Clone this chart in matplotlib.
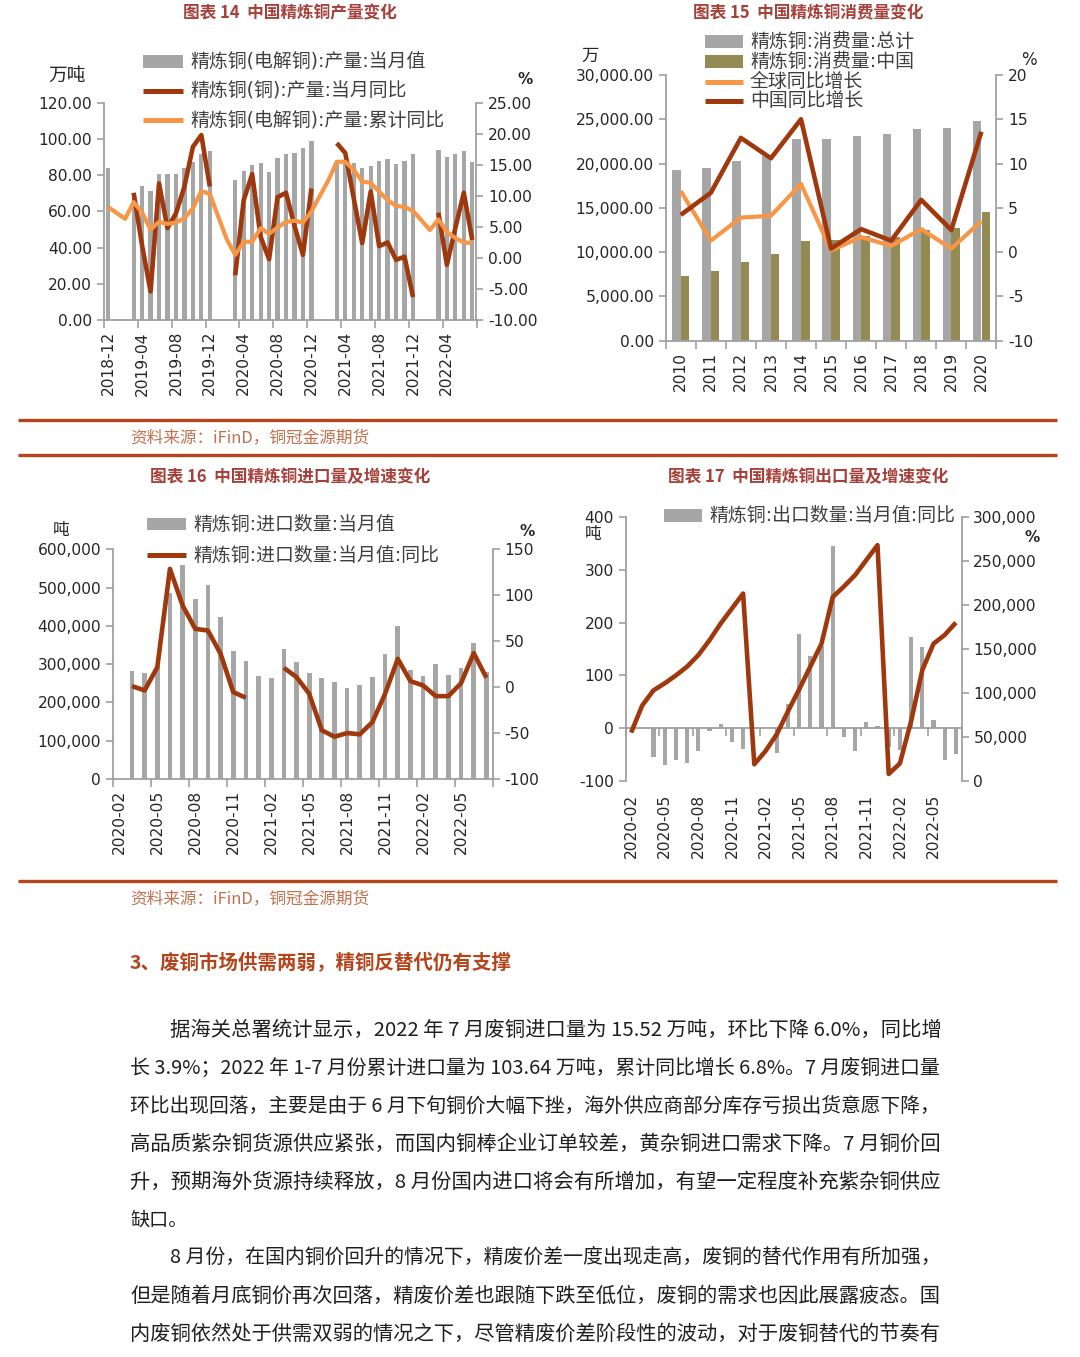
import numpy as np
import pandas as pd
import matplotlib
matplotlib.use('Agg')
import matplotlib.pyplot as plt
from matplotlib.patches import Rectangle
from matplotlib.lines import Line2D
from matplotlib.ticker import FuncFormatter

nan = np.nan

# ---------------- 图表14 中国精炼铜产量变化 ----------------
c14_months = list(pd.period_range('2018-12', periods=44, freq='M').strftime('%Y-%m'))
c14_ticklabels = ['2018-12', '2019-04', '2019-08', '2019-12', '2020-04', '2020-08',
                  '2020-12', '2021-04', '2021-08', '2021-12', '2022-04']
c14_output = [84.1, nan, nan, 70.3, 74.2, 71.3, 80.7, 80.5, 80.5, 84.1, 87.1, 91.5, 93.4,
              nan, nan, 77.3, 82.3, 85.6, 86.6, 81.9, 89.7, 91.5, 92.1, 95.2, 99.0,
              nan, nan, 88.0, 87.0, 86.9, 84.2, 85.1, 87.8, 88.8, 86.0, 88.0, 91.5,
              nan, nan, 93.9, 90.2, 91.7, 93.5, 87.5]
c14_yoy = [nan, nan, nan, 10.5, 2.0, -5.4, 12.0, 4.8, 7.2, 11.5, 17.9, 19.8, 11.5,
           nan, nan, -2.8, 9.3, 13.5, 3.4, -0.2, 9.8, 10.5, 5.2, 0.5, 11.2,
           nan, nan, 18.5, 16.9, 9.6, 2.4, 10.7, 1.9, 2.5, -0.3, 0.2, -6.3,
           nan, nan, 7.3, -1.1, 4.8, 10.5, 2.9]
c14_cum_yoy = [8.2, nan, 6.3, 9.0, 7.3, 4.6, 5.8, 5.5, 5.7, 6.4, 8.0, 10.8, 10.3,
               nan, 3.0, 0.5, 2.6, 2.6, 4.8, 3.9, 4.9, 5.8, 6.0, 5.7, 7.5,
               nan, 12.5, 15.5, 15.5, 14.2, 12.3, 12.1, 10.7, 9.3, 8.4, 8.2, 7.6,
               nan, 4.5, 6.2, 4.2, 3.2, 2.5, 2.4]

# ---------------- 图表15 中国精炼铜消费量变化 ----------------
c15_years = ['2010', '2011', '2012', '2013', '2014', '2015', '2016', '2017', '2018', '2019', '2020']
c15_total = [19300, 19540, 20290, 20800, 22740, 22820, 23150, 23300, 23900, 24020, 24810]
c15_china = [7340, 7830, 8850, 9790, 11300, 11400, 11800, 11750, 12500, 12760, 14530]
c15_global_yoy = [6.9, 1.3, 3.9, 4.1, 7.7, 0.2, 1.7, 0.7, 2.6, 0.4, 3.5]
c15_china_yoy = [4.2, 6.7, 12.9, 10.6, 15.0, 0.4, 2.6, 1.3, 5.9, 2.5, 13.6]

# ---------------- 图表16 中国精炼铜进口量及增速变化 ----------------
c16_months = list(pd.period_range('2020-02', periods=30, freq='M').strftime('%Y-%m'))
c16_ticklabels = ['2020-02', '2020-05', '2020-08', '2020-11', '2021-02', '2021-05',
                  '2021-08', '2021-11', '2022-02', '2022-05']
c16_import = [nan, 282000, 276000, 295000, 486000, 559000, 470000, 508000, 424000, 335000,
              308000, 269000, 264000, 340000, 305000, 278000, 263000, 254000, 237000, 245000,
              266000, 326000, 400000, 286000, 269000, 300000, 271000, 291000, 356000, 279000]
c16_import_yoy = [nan, 1.1, -3.6, 21.7, 128.7, 88.8, 63.4, 61.6, 36.3, -5.4,
                  -11.6, nan, nan, 21.0, 10.9, -7.2, -47.0, -54.0, -50.0, -51.4,
                  -38.0, -7.2, 30.8, 6.5, 1.8, -9.8, -9.8, 4.3, 37.0, 10.2]

# ---------------- 图表17 中国精炼铜出口量及增速变化 ----------------
c17_months = list(pd.period_range('2020-02', periods=30, freq='M').strftime('%Y-%m'))
c17_ticklabels = ['2020-02', '2020-05', '2020-08', '2020-11', '2021-02', '2021-05',
                  '2021-08', '2021-11', '2022-02', '2022-05']
c17_export_yoy = [nan, nan, -54, -70, -60, -66, -43, -6, 8, -27,
                  -40, nan, nan, -47, 45, 178, 137, 156, 345, -16,
                  -43, 12, 4, -35, -41, 173, 154, 15, -60, -49]
c17_export = [55000, 86000, 103000, 111000, 120000, 130000, 143000, 160000, 179000, 196000,
              213000, 19000, 34000, 53000, 79000, 104000, 130000, 156000, 209000, 221000,
              234000, 251000, 268000, 8000, 20000, 68000, 126000, 156000, 166000, 180000]

# ---------------- text ----------------
title14 = '图表 14  中国精炼铜产量变化'
title15 = '图表 15  中国精炼铜消费量变化'
title16 = '图表 16  中国精炼铜进口量及增速变化'
title17 = '图表 17  中国精炼铜出口量及增速变化'
source_text = '资料来源：iFinD，铜冠金源期货'
section_title = '3、废铜市场供需两弱，精铜反替代仍有支撑'
body_lines = [
    '据海关总署统计显示，2022 年 7 月废铜进口量为 15.52 万吨，环比下降 6.0%，同比增',
    '长 3.9%；2022 年 1-7 月份累计进口量为 103.64 万吨，累计同比增长 6.8%。7 月废铜进口量',
    '环比出现回落，主要是由于 6 月下旬铜价大幅下挫，海外供应商部分库存亏损出货意愿下降，',
    '高品质紫杂铜货源供应紧张，而国内铜棒企业订单较差，黄杂铜进口需求下降。7 月铜价回',
    '升，预期海外货源持续释放，8 月份国内进口将会有所增加，有望一定程度补充紫杂铜供应',
    '缺口。',
    '8 月份，在国内铜价回升的情况下，精废价差一度出现走高，废铜的替代作用有所加强，',
    '但是随着月底铜价再次回落，精废价差也跟随下跌至低位，废铜的需求也因此展露疲态。国',
    '内废铜依然处于供需双弱的情况之下，尽管精废价差阶段性的波动，对于废铜替代的节奏有',
]

# ---------------- style ----------------
plt.rcParams['font.family'] = ['DejaVu Sans', 'Noto Sans CJK SC']
plt.rcParams['axes.unicode_minus'] = False

W, H = 1080, 1357
GRAY = '#A6A6A6'
OLIVE = '#948A54'
DARK = '#A0380E'
ORANGE = '#F79646'
AXC = '#A0A0A0'
TXT = '#262626'
TITLE_C = '#A5403B'
SEP_C = '#B5451B'
SRC_C = '#C0714F'
TICK_FS = 11.2
LEG_FS = 13.6
CJK = ['Noto Sans CJK SC', 'DejaVu Sans']

fig = plt.figure(figsize=(W / 100, H / 100), dpi=100)
fig.patch.set_facecolor('white')


def fx(x):
    return x / W


def fy(y):
    return 1 - y / H


def add_ax(l, t, r, b):
    return fig.add_axes([l / W, 1 - b / H, (r - l) / W, (b - t) / H])


def ftext(x, y, s, **kw):
    kw.setdefault('ha', 'center')
    kw.setdefault('va', 'center')
    return fig.text(fx(x), fy(y), s, **kw)


def leg_patch(x0, x1, y, color, h=13):
    fig.patches.append(Rectangle((fx(x0), fy(y + h / 2)), (x1 - x0) / W, h / H,
                                 transform=fig.transFigure, facecolor=color, edgecolor='none'))


def leg_line(x0, x1, y, color, lw=3.6):
    fig.add_artist(Line2D([fx(x0), fx(x1)], [fy(y), fy(y)], transform=fig.transFigure,
                          color=color, lw=lw, solid_capstyle='butt'))


def style(ax, ax2, n, months, ticklabels, step, lfmt, rfmt, labels_bottom=True):
    ax.set_xlim(-0.5, n - 0.5)
    for a in (ax, ax2):
        a.spines['top'].set_visible(False)
    ax.spines['right'].set_visible(False)
    ax2.spines['left'].set_visible(False)
    ax2.spines['bottom'].set_visible(False)
    for sp in ('left', 'bottom'):
        ax.spines[sp].set_color(AXC)
        ax.spines[sp].set_linewidth(1.3)
    ax2.spines['right'].set_color(AXC)
    ax2.spines['right'].set_linewidth(1.3)
    pos = [months.index(l) for l in ticklabels]
    ax.set_xticks(pos)
    ax.set_xticklabels(ticklabels)
    ax.set_xticks(np.arange(-0.5, n, step), minor=True)
    ax.tick_params(axis='x', which='major', length=0, pad=8, labelsize=TICK_FS,
                   labelcolor=TXT, labelrotation=90, labelbottom=labels_bottom)
    ax.tick_params(axis='x', which='minor', length=5.5, width=1.2, color=AXC, direction='out')
    ax.tick_params(axis='y', which='major', length=5, width=1.2, color=AXC, pad=3.5,
                   labelsize=TICK_FS, labelcolor=TXT, direction='out')
    ax2.tick_params(axis='y', which='major', length=5, width=1.2, color=AXC, pad=3.5,
                    labelsize=TICK_FS, labelcolor=TXT, direction='out')
    ax.yaxis.set_major_formatter(FuncFormatter(lfmt))
    ax2.yaxis.set_major_formatter(FuncFormatter(rfmt))
    ax.set_facecolor('none')
    return pos


# ================= Chart 14 =================
ax = add_ax(104, 102.8, 476.5, 320)
ax2 = ax.twinx()
x = np.arange(len(c14_months))
out = np.array(c14_output, dtype=float)
m = ~np.isnan(out)
ax.bar(x[m], out[m], width=0.5, color=GRAY, zorder=2)
ax2.plot(x, c14_yoy, color=DARK, lw=3.3, solid_capstyle='butt', solid_joinstyle='round')
cy = np.array(c14_cum_yoy, dtype=float)
mc = ~np.isnan(cy)
ax2.plot(x[mc], cy[mc], color=ORANGE, lw=3.0, solid_capstyle='butt', solid_joinstyle='round')
ax.set_ylim(0, 120)
ax.set_yticks(np.arange(0, 121, 20))
ax2.set_ylim(-10, 25)
ax2.set_yticks(np.arange(-10, 26, 5))
style(ax, ax2, len(c14_months), c14_months, c14_ticklabels, 4,
      lambda v, p: f'{v:.2f}', lambda v, p: f'{v:.2f}')

ftext(289.5, 13, title14, color=TITLE_C, fontsize=12, fontweight='bold', family=CJK)
ftext(67, 75, '万吨', fontsize=13.5, color=TXT, family=CJK)
ftext(525, 80, '%', fontsize=11, color=TXT, fontweight='bold')
leg_patch(143, 183, 61, GRAY)
ftext(190, 61, '精炼铜(电解铜):产量:当月值', ha='left', fontsize=LEG_FS, color='#404040')
leg_line(143, 183, 90.7, DARK)
ftext(190, 90.7, '精炼铜(铜):产量:当月同比', ha='left', fontsize=LEG_FS, color='#404040')
leg_line(143, 183, 120, ORANGE)
ftext(190, 120, '精炼铜(电解铜):产量:累计同比', ha='left', fontsize=LEG_FS, color='#404040')

# ================= Chart 15 =================
ax = add_ax(665.7, 75, 996.4, 340.7)
ax2 = ax.twinx()
x = np.arange(len(c15_years))
ax.bar(x - 0.145, c15_total, width=0.28, color=GRAY, zorder=2)
ax.bar(x + 0.145, c15_china, width=0.28, color=OLIVE, zorder=2)
ax2.plot(x, c15_global_yoy, color=ORANGE, lw=3.0, solid_capstyle='butt')
ax2.plot(x, c15_china_yoy, color=DARK, lw=3.3, solid_capstyle='butt')
ax.set_ylim(0, 30000)
ax.set_yticks(np.arange(0, 30001, 5000))
ax2.set_ylim(-10, 20)
ax2.set_yticks(np.arange(-10, 21, 5))
style(ax, ax2, len(c15_years), c15_years, c15_years, 1,
      lambda v, p: f'{v:,.2f}', lambda v, p: f'{v:g}')

ftext(808.5, 13, title15, color=TITLE_C, fontsize=12, fontweight='bold', family=CJK)
ftext(590, 56, '万', fontsize=12.5, color=TXT, family=CJK)
ftext(1029, 60, '%', fontsize=12, color=TXT)
leg_patch(705, 742.5, 41.7, GRAY)
ftext(750, 41.7, '精炼铜:消费量:总计', ha='left', fontsize=LEG_FS, color='#404040')
leg_patch(705, 742.5, 61.7, OLIVE)
ftext(750, 61.7, '精炼铜:消费量:中国', ha='left', fontsize=LEG_FS, color='#404040')
leg_line(705, 742.5, 81.7, ORANGE)
ftext(750, 81.7, '全球同比增长', ha='left', fontsize=LEG_FS, color='#404040')
leg_line(705, 742.5, 100.7, DARK)
ftext(750, 100.7, '中国同比增长', ha='left', fontsize=LEG_FS, color='#404040')

# ================= Chart 16 =================
ax = add_ax(113, 549.3, 492.7, 779)
ax2 = ax.twinx()
x = np.arange(len(c16_months))
imp = np.array(c16_import, dtype=float)
m = ~np.isnan(imp)
ax.bar(x[m], imp[m], width=0.37, color=GRAY, zorder=2)
ax2.plot(x, c16_import_yoy, color=DARK, lw=3.3, solid_capstyle='butt', solid_joinstyle='round')
ax.set_ylim(0, 600000)
ax.set_yticks(np.arange(0, 600001, 100000))
ax2.set_ylim(-100, 150)
ax2.set_yticks(np.arange(-100, 151, 50))
style(ax, ax2, len(c16_months), c16_months, c16_ticklabels, 3,
      lambda v, p: f'{v:,.0f}', lambda v, p: f'{v:g}')

ftext(290, 477, title16, color=TITLE_C, fontsize=12, fontweight='bold', family=CJK)
ftext(61, 531, '吨', fontsize=12, color=TXT, family=CJK)
ftext(527, 531, '%', fontsize=11, color=TXT, fontweight='bold')
leg_patch(146.5, 186, 524, GRAY)
ftext(193, 524, '精炼铜:进口数量:当月值', ha='left', fontsize=LEG_FS, color='#404040')
leg_line(146.5, 186, 555, DARK)
ftext(193, 555, '精炼铜:进口数量:当月值:同比', ha='left', fontsize=LEG_FS, color='#404040')

# ================= Chart 17 =================
ax = add_ax(625.5, 517, 961.5, 781)
ax2 = ax.twinx()
x = np.arange(len(c17_months))
ey = np.array(c17_export_yoy, dtype=float)
m = ~np.isnan(ey)
ax.bar(x[m], ey[m], width=0.39, color=GRAY, zorder=2)
ax2.plot(x, c17_export, color=DARK, lw=3.3, solid_capstyle='butt', solid_joinstyle='round')
ax.set_ylim(-100, 400)
ax.set_yticks(np.arange(-100, 401, 100))
ax2.set_ylim(0, 300000)
ax2.set_yticks(np.arange(0, 300001, 50000))
pos = style(ax, ax2, len(c17_months), c17_months, c17_ticklabels, 3,
            lambda v, p: f'{v:g}', lambda v, p: f'{v:,.0f}', labels_bottom=False)
ax.spines['bottom'].set_position(('data', 0))
sec = ax.secondary_xaxis(0.0)
sec.set_xticks(pos)
sec.set_xticklabels(c17_ticklabels)
sec.tick_params(axis='x', which='both', length=0, pad=9, labelsize=TICK_FS,
                labelcolor=TXT, labelrotation=90)
for sp in sec.spines.values():
    sp.set_visible(False)

ftext(808, 477, title17, color=TITLE_C, fontsize=12, fontweight='bold', family=CJK)
ftext(593.5, 535, '吨', fontsize=12, color=TXT, family=CJK)
ftext(1032.5, 538, '%', fontsize=11, color=TXT, fontweight='bold')
leg_patch(663.5, 702, 515, GRAY)
ftext(709, 515, '精炼铜:出口数量:当月值:同比', ha='left', fontsize=LEG_FS, color='#404040')

# ================= separators & sources =================
for yy in (420, 455, 881):
    fig.add_artist(Line2D([fx(18), fx(1057)], [fy(yy), fy(yy)], transform=fig.transFigure,
                          color=SEP_C, lw=2.4, solid_capstyle='butt'))
ftext(130, 438, source_text, ha='left', fontsize=12, color=SRC_C, family=CJK)
ftext(130, 899, source_text, ha='left', fontsize=12, color=SRC_C, family=CJK)
ftext(130, 963, section_title, ha='left', fontsize=14, color='#B4441C', fontweight='bold', family=CJK)

# ================= body text (approximately justified) =================
body_x = [170, 130, 130, 130, 130, 130, 170, 130, 130]
body_y = [1030, 1068, 1106, 1144, 1182, 1220, 1258, 1296, 1334]
body_just = [True, True, True, True, True, False, True, True, True]
renderer = fig.canvas.get_renderer()
BASE_FS = 13.8
for s, bx, by, just in zip(body_lines, body_x, body_y, body_just):
    t = ftext(bx, by, s, ha='left', fontsize=BASE_FS, color='#1F1F1F', family=CJK)
    if just:
        w = t.get_window_extent(renderer).width
        target = 940 - bx
        fs = BASE_FS * target / w
        fs = min(max(fs, BASE_FS * 0.9), BASE_FS * 1.1)
        t.set_fontsize(fs)

fig.savefig('out.png', dpi=100, facecolor='white')
